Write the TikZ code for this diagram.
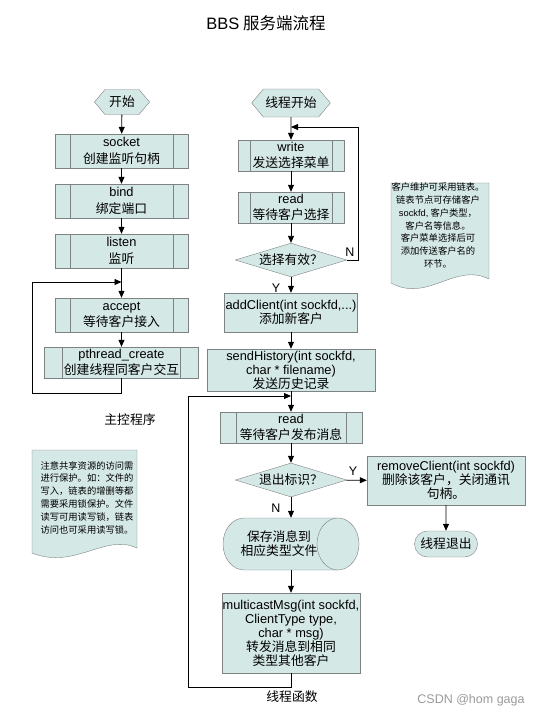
\documentclass[tikz,border=0pt]{standalone}
\usepackage{fontspec}
\setmainfont{Noto Sans CJK SC}
\newfontfamily\lat{Liberation Sans}
\usepackage{xcolor}
\usepackage{tikz}
\usetikzlibrary{arrows.meta,positioning,shapes.geometric,shapes.symbols,shapes.misc}
\definecolor{BoxFill}{HTML}{D4E8E6}
\definecolor{BoxEdge}{HTML}{7F8283}
\definecolor{Mark}{HTML}{9A9A9A}
\def\barw{15pt}
\tikzset{
  barw/.store in=\barw,
  base/.style={draw=BoxEdge,fill=BoxFill,align=center,inner sep=1pt,
    font=\fontsize{12.8}{14}\selectfont},
  procbox/.style={base,minimum height=31pt,
    font=\fontsize{12.8}{16.5}\selectfont,
    path picture={
      \draw[BoxEdge] ([xshift=\barw]path picture bounding box.north west)
        -- ([xshift=\barw]path picture bounding box.south west);
      \draw[BoxEdge] ([xshift=-\barw]path picture bounding box.north east)
        -- ([xshift=-\barw]path picture bounding box.south east);}},
  plainbox/.style={base},
  startbox/.style={base,signal,signal to=west and east,signal pointer angle=100,
    inner sep=2pt},
  decision/.style={base,diamond,aspect=3.3,inner sep=1pt},
  endbox/.style={base,rounded rectangle,minimum width=65pt,minimum height=26pt},
  notetext/.style={align=center,font=\fontsize{9.3}{12.8}\selectfont},
  caption/.style={font=\fontsize{12.8}{14}\selectfont},
  yn/.style={font=\lat\fontsize{12.5}{14}\selectfont},
  line/.style={draw=black,line width=0.8pt},
  arr/.style={line,-{Triangle[length=7pt,width=6pt]}},
}
\begin{document}
\begin{tikzpicture}[x=1pt,y=-1pt]
  \useasboundingbox (0,0) rectangle (542,717);
  \node[font=\fontsize{16.5}{19}\selectfont] (title) at (266,23) {{\lat BBS} 服务端流程};

  % main program
  \node[startbox,minimum width=55pt,minimum height=25pt] (start) at (122,102) {开始};
  \node[procbox,minimum width=133pt,minimum height=34pt] (socket) at (121.5,151) {{\lat socket}\\创建监听句柄};
  \node[procbox,minimum width=133pt,minimum height=34pt] (bind) at (121.5,201) {{\lat bind}\\绑定端口};
  \node[procbox,minimum width=133pt,minimum height=34pt] (listen) at (121.5,251) {{\lat listen}\\监听};
  \node[procbox,minimum width=133pt,minimum height=34pt] (accept) at (121.5,315) {{\lat accept}\\等待客户接入};
  \node[procbox,minimum width=154pt,barw=18pt] (pthread) at (121.5,362.5) {{\lat pthread\_create}\\创建线程同客户交互};
  \node[caption] (mainlbl) at (130,420) {主控程序};
  \coordinate (lcorner) at (32,393);
  \coordinate (lmerge) at (121.5,282);

  \draw[arr] (start) -- (socket);
  \draw[arr] (socket) -- (bind);
  \draw[arr] (bind) -- (listen);
  \draw[arr] (listen) -- (accept);
  \draw[arr] (accept) -- (pthread);
  \draw[arr] (pthread.south) |- (lcorner) |- (lmerge);

  % thread function
  \node[startbox,minimum width=72pt,minimum height=28pt] (tstart) at (291,103) {线程开始};
  \node[procbox,minimum width=106pt,barw=12pt] (write) at (291,155.5) {{\lat write}\\发送选择菜单};
  \node[procbox,minimum width=106pt,barw=12pt] (read) at (291,207.5) {{\lat read}\\等待客户选择};
  \node[decision,minimum width=109pt,minimum height=33pt] (valid) at (291,260) {选择有效？};
  \node[plainbox,minimum width=132pt,minimum height=39pt] (add) at (291,312.5) {{\lat addClient(int sockfd,...)}\\添加新客户};
  \node[plainbox,minimum width=168pt,minimum height=42pt] (hist) at (291,370) {{\lat sendHistory(int sockfd,}\\{\lat char * filename)}\\发送历史记录};
  \node[procbox,minimum width=142pt,barw=16pt] (read2) at (291,427.5) {{\lat read}\\等待客户发布消息};
  \node[decision,minimum width=110pt,minimum height=34pt] (quit) at (291,480) {退出标识？};
  \node[plainbox,minimum width=158pt,minimum height=49pt] (remove) at (446,480.5) {{\lat removeClient(int sockfd)}\\删除该客户，关闭通讯\\句柄。};
  \node[endbox] (tend) at (446,544) {线程退出};
  % storage drum
  \fill[BoxFill] (338,518) -- (244,518)
    arc[start angle=270,end angle=90,x radius=21,y radius=26] -- (338,570) -- cycle;
  \draw[BoxEdge] (338,518) -- (244,518)
    arc[start angle=270,end angle=90,x radius=21,y radius=26] -- (338,570);
  \filldraw[draw=BoxEdge,fill=BoxFill] (338,544) ellipse[x radius=21,y radius=26];
  \node[minimum width=136pt,minimum height=52pt,inner sep=0pt] (save) at (291,544) {};
  \node[base,draw=none,fill=none] (savelbl) at (279,544) {保存消息到\\相应类型文件};
  \node[plainbox,minimum width=138pt,minimum height=80pt] (multi) at (291,633) {{\lat multicastMsg(int sockfd,}\\{\lat ClientType type,}\\{\lat char * msg)}\\转发消息到相同\\类型其他客户};
  \node[caption] (threadlbl) at (292,697) {线程函数};
  \coordinate (rcorner) at (358,127);
  \coordinate (rmerge) at (291,127);
  \coordinate (bcorner) at (188,687);
  \coordinate (bmerge) at (291,396);

  \draw[arr] (tstart) -- (write);
  \draw[arr] (write) -- (read);
  \draw[arr] (read) -- (valid);
  \draw[arr] (valid) -- (add);
  \draw[arr] (add) -- (hist);
  \draw[arr] (hist) -- (read2);
  \draw[arr] (read2) -- (quit);
  \draw[arr] (quit) -- (save);
  \draw[arr] (save) -- (multi);
  \draw[arr] (quit) -- (remove);
  \draw[arr] (remove) -- (tend);
  \draw[arr] (valid.east) -| (rcorner) -- (rmerge);
  \draw[arr] (multi.south) |- (bcorner) |- (bmerge);
  \node[yn] (ylbl1) at (276,288) {Y};
  \node[yn] (nlbl1) at (350,252) {N};
  \node[yn] (ylbl2) at (353,471) {Y};
  \node[yn] (nlbl2) at (276,508) {N};

  % notes
  \filldraw[draw=BoxEdge,fill=BoxFill] (391,183) -- (489,183) -- (489,279)
    .. controls (455,262) and (428,303) .. (391,283) -- cycle;
  \node[notetext] (note1) at (438,225.5) {客户维护可采用链表。\\链表节点可存储客户\\{\lat sockfd,} 客户类型，\\客户名等信息。\\客户菜单选择后可\\添加传送客户名的\\环节。};
  \filldraw[draw=BoxEdge,fill=BoxFill] (32,450) -- (137,450) -- (137,548)
    .. controls (105,533) and (75,570) .. (32,553) -- cycle;
  \node[notetext] (note2) at (87,497.5) {注意共享资源的访问需\\进行保护。如：文件的\\写入，链表的增删等都\\需要采用锁保护。文件\\读写可用读写锁，链表\\访问也可采用读写锁。};

  \node[text=Mark,font=\lat\fontsize{12.5}{14}\selectfont] (mark) at (471,700) {CSDN @hom gaga};
\end{tikzpicture}
\end{document}
